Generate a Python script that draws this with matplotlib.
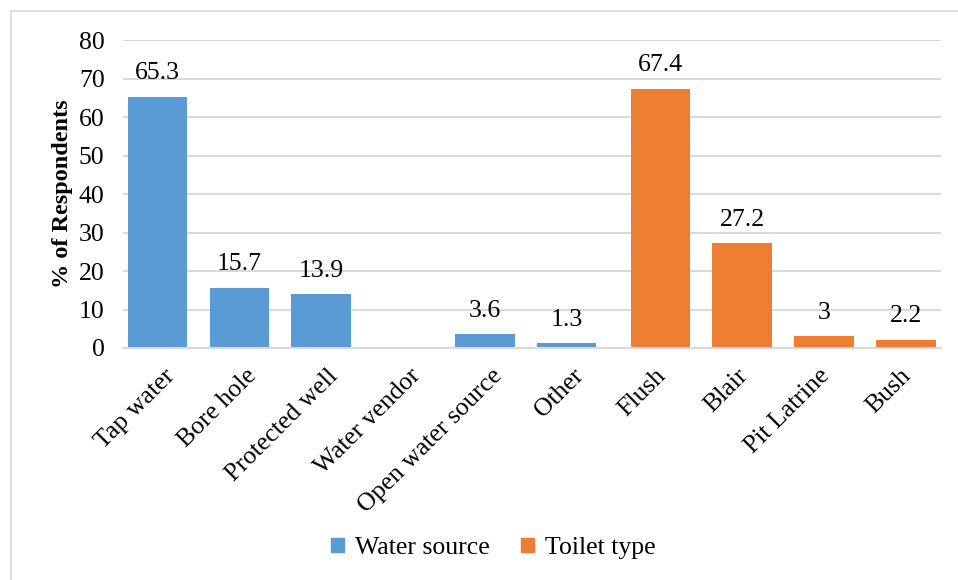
import matplotlib.pyplot as plt
from matplotlib.lines import Line2D
from matplotlib.patches import Patch
import numpy as np

plt.rcParams['font.family'] = ['Liberation Serif', 'DejaVu Serif']

categories = ["Tap water", "Bore hole", "Protected well", "Water vendor",
              "Open water source", "Other", "Flush", "Blair", "Pit Latrine", "Bush"]
# water vendor has no value recorded
water_source = [65.3, 15.7, 13.9, None, 3.6, 1.3, None, None, None, None]
toilet_type = [None, None, None, None, None, None, 67.4, 27.2, 3, 2.2]

series_names = ["Water source", "Toilet type"]
colors = ["#5B9BD5", "#ED7D31"]

fig = plt.figure(figsize=(9.58, 5.8), dpi=100)
ax = fig.add_axes([0.128, 0.4, 0.854, 0.531])

x = np.arange(len(categories))
width = 0.73
shift = 0.073

for vals, off, col in [(water_source, -shift, colors[0]), (toilet_type, shift, colors[1])]:
    for xi, v in zip(x, vals):
        if v is None:
            continue
        ax.bar(xi + off, v, width=width, color=col, zorder=2)
        ax.text(xi + off, v + 3.2, f"{v:g}", ha="center", va="bottom", fontsize=18.5)

ax.set_xlim(-0.5, len(categories) - 0.5)
ax.set_ylim(0, 80)
ax.set_yticks(range(0, 81, 10))
ax.yaxis.grid(True, color="#d9d9d9", linewidth=1.5, zorder=0)
ax.set_axisbelow(True)
for side in ["top", "right", "left"]:
    ax.spines[side].set_visible(False)
ax.spines["bottom"].set_color("#d9d9d9")
ax.spines["bottom"].set_linewidth(1.5)
ax.tick_params(axis="y", length=0, labelsize=18.5, pad=13)
ax.tick_params(axis="x", length=0, labelsize=18.5, pad=12)
ax.set_xticks(x)
ax.set_xticklabels(categories, rotation=45, ha="right", rotation_mode="anchor")
ax.set_ylabel("% of Respondents", fontsize=17.5, fontweight="bold", labelpad=4)

handles = [Patch(color=c, label=n) for c, n in zip(colors, series_names)]
fig.legend(handles=handles, loc="center", bbox_to_anchor=(0.515, 0.055), ncol=2,
           frameon=False, fontsize=18.5, handlelength=0.5, handleheight=0.5,
           handletextpad=0.4, columnspacing=1.25)

# thin outer frame on the left and top edges
fig.add_artist(Line2D([0.0115, 0.0115], [0, 0.981], color="#d9d9d9", linewidth=1.2))
fig.add_artist(Line2D([0.0115, 1], [0.981, 0.981], color="#d9d9d9", linewidth=1.2))

fig.savefig("out.png", dpi=100)
